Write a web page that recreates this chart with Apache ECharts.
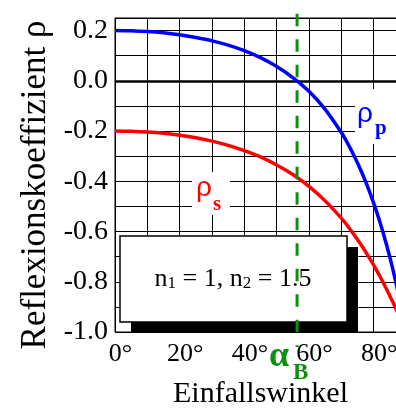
<!DOCTYPE html>
<html>
<head>
<meta charset="utf-8">
<script src="https://cdn.jsdelivr.net/npm/echarts@6/dist/echarts.min.js"></script>
<style>html,body{margin:0;padding:0;background:#fff}#c{width:396px;height:414px}</style>
</head>
<body>
<div id="c"></div>
<script>
// Incidence angles (degrees)
var angles = [0,5,10,15,20,25,30,35,40,45,50,55,60,65,70,72,74,76,78,80,82,84,86,88,90];
// Reflection coefficient rho_s (s-polarisation), n1=1, n2=1.5
var rhoS = [-0.200,-0.201,-0.204,-0.209,-0.217,-0.227,-0.240,-0.257,-0.278,-0.303,-0.335,-0.373,-0.420,-0.478,-0.547,-0.579,-0.614,-0.651,-0.691,-0.734,-0.780,-0.830,-0.883,-0.939,-1.000];
// Reflection coefficient rho_p (p-polarisation)
var rhoP = [0.200,0.199,0.196,0.191,0.183,0.172,0.159,0.142,0.120,0.092,0.057,0.013,-0.042,-0.114,-0.206,-0.250,-0.300,-0.355,-0.417,-0.487,-0.565,-0.654,-0.754,-0.869,-1.000];
// Brewster angle and extent of its dashed marker
var brewsterAngle = 56.31;
var brewsterSpan = [0.267, -1.06];
var xTicks = [0,20,40,60,80];
var yTicks = [0.2,0.0,-0.2,-0.4,-0.6,-0.8,-1.0];
var xName = 'Einfallswinkel';
var yName = 'Reflexionskoeffizient \u03c1';

var SERIF = 'Liberation Serif';
var chart = echarts.init(document.getElementById('c'), null, {renderer:'canvas'});

function pairs(xs, ys){ return xs.map(function(x,i){ return [x, ys[i]]; }); }

var option = {
  animation: false,
  backgroundColor: '#fff',
  grid: {left:115, top:18, width:291, height:314, show:true, borderColor:'#000', borderWidth:1,
         backgroundColor:'transparent', containLabel:false, outerBoundsMode:'none'},
  xAxis: {
    type:'value', min:0, max:90, interval:10,
    axisLine:{lineStyle:{color:'#000', width:1}},
    axisTick:{inside:true, length:5, lineStyle:{color:'#000'}},
    splitLine:{show:true, lineStyle:{color:'#000', width:1}},
    axisLabel:{
      color:'#000', fontFamily:SERIF, fontSize:26, margin:9, padding:[0,0,0,11], hideOverlap:false,
      formatter:function(v){ return xTicks.indexOf(Math.round(v))>=0 && Math.abs(v-Math.round(v))<1e-6 ? v+'\u00b0' : ''; }
    },
    name:xName, nameLocation:'middle', nameGap:47,
    nameTextStyle:{color:'#000', fontFamily:SERIF, fontSize:30}
  },
  yAxis: {
    type:'value', min:-1, max:0.25, interval:0.1,
    axisLine:{show:true, lineStyle:{color:'#000', width:1}},
    axisTick:{show:true, inside:true, length:5, lineStyle:{color:'#000'}},
    splitLine:{show:true, lineStyle:{color:'#000', width:1}},
    axisLabel:{
      color:'#000', fontFamily:SERIF, fontSize:28, margin:7,
      formatter:function(v){
        for (var i=0;i<yTicks.length;i++){ if (Math.abs(v-yTicks[i])<1e-6) return yTicks[i].toFixed(1); }
        return '';
      }
    }
  },
  graphic: [
    {type:'text', x:36, y:185, rotation:Math.PI/2, z:20,
     style:{text:yName, fill:'#000', font:'35px "Liberation Serif"', textAlign:'center', textVerticalAlign:'middle'}},
    {type:'rect', z:5, shape:{x:131, y:247, width:227, height:86}, style:{fill:'#000'}},
    {type:'rect', z:5, shape:{x:120, y:236, width:227, height:86}, style:{fill:'#fff', stroke:'#000', lineWidth:1.5}},
    {type:'text', z:6, x:233, y:277,
     style:{text:'{m|n}{s|1}{m| = 1, n}{s|2}{m| = 1.5}', textAlign:'center', textVerticalAlign:'middle',
       rich:{
         m:{fontFamily:SERIF, fontSize:26, lineHeight:30, verticalAlign:'bottom', fill:'#000', color:'#000'},
         s:{fontFamily:SERIF, fontSize:17, lineHeight:4, verticalAlign:'bottom', fill:'#000', color:'#000'}
       }}},
    {type:'rect', z:5, shape:{x:355, y:89, width:45, height:55}, style:{fill:'#fff'}},
    {type:'text', z:6, x:357, y:114, style:{text:'\u03c1', fill:'#0000ff', font:'28px "Liberation Sans"', textAlign:'left', textVerticalAlign:'middle'}},
    {type:'text', z:6, x:375, y:129, style:{text:'p', fill:'#0000ff', font:'bold 21px "Liberation Serif"', textAlign:'left', textVerticalAlign:'middle'}},
    {type:'rect', z:5, shape:{x:192, y:172, width:38, height:43}, style:{fill:'#fff'}},
    {type:'text', z:6, x:196, y:188, style:{text:'\u03c1', fill:'#ff0000', font:'28px "Liberation Sans"', textAlign:'left', textVerticalAlign:'middle'}},
    {type:'text', z:6, x:213, y:205, style:{text:'s', fill:'#ff0000', font:'bold 21px "Liberation Serif"', textAlign:'left', textVerticalAlign:'middle'}},
    {type:'rect', z:5, shape:{x:267, y:333, width:26, height:20}, style:{fill:'#fff'}},
    {type:'text', z:6, x:269, y:357, style:{text:'\u03b1', fill:'#0f8f0f', font:'bold 36px "Liberation Serif"', textAlign:'left', textVerticalAlign:'middle'}},
    {type:'text', z:6, x:293, y:373, style:{text:'B', fill:'#0f8f0f', font:'bold 23px "Liberation Serif"', textAlign:'left', textVerticalAlign:'middle'}}
  ],
  series: [
    {type:'line', name:'rho_p', data:pairs(angles, rhoP), showSymbol:false, z:10,
     lineStyle:{color:'#0000ff', width:3.5}, smooth:0.2,
     markLine:{silent:true, symbol:'none', label:{show:false}, z:4,
       lineStyle:{color:'#000', width:2.5, type:'solid'}, data:[{yAxis:0}]}},
    {type:'line', name:'rho_s', data:pairs(angles, rhoS), showSymbol:false, z:10,
     lineStyle:{color:'#ff0000', width:3.5}, smooth:0.2},
    {type:'line', name:'brewster', data:[[brewsterAngle, brewsterSpan[0]],[brewsterAngle, brewsterSpan[1]]],
     showSymbol:false, clip:false, z:11,
     lineStyle:{color:'#0f8f0f', width:3, type:[12.5,13]}}
  ]
};
chart.setOption(option);
</script>
</body>
</html>
